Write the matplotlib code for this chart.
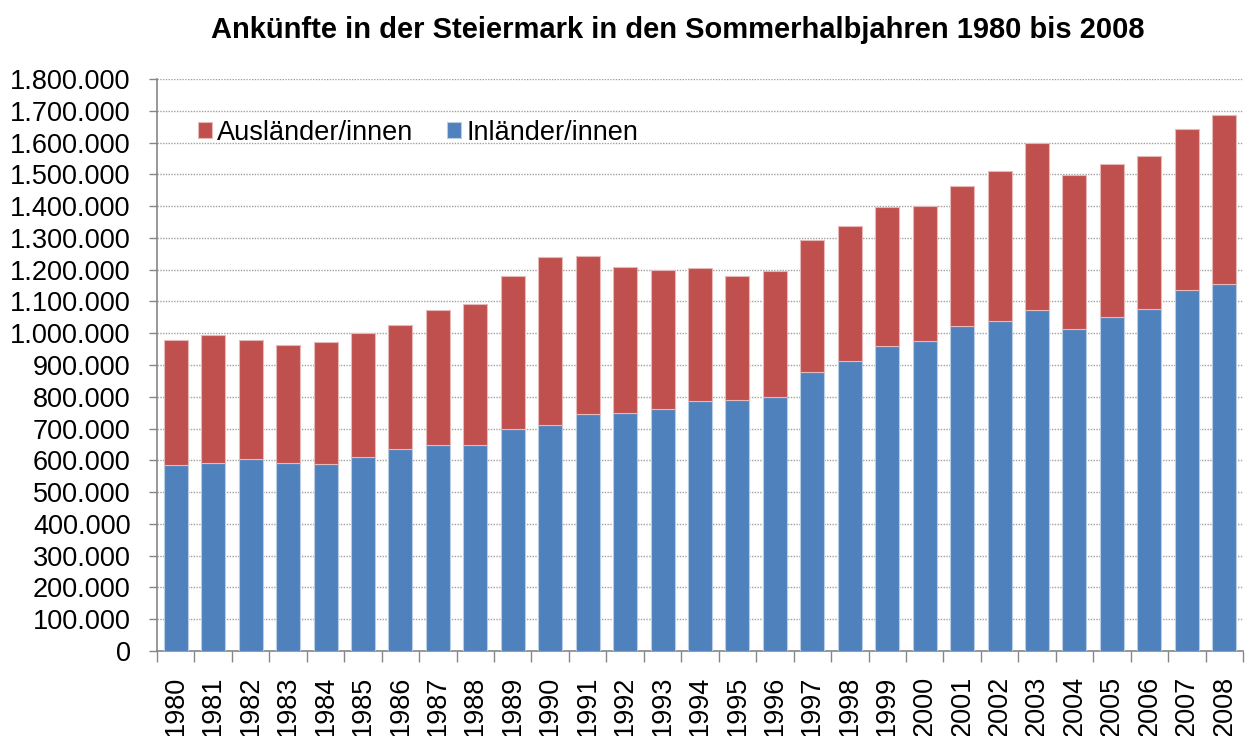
import matplotlib.pyplot as plt
from matplotlib.ticker import FuncFormatter, FixedLocator
import numpy as np

plt.rcParams['font.family'] = ['Liberation Sans', 'DejaVu Sans']

years = list(range(1980, 2009))

# arrivals of domestic guests (Inländer/innen)
inland = [585000, 592000, 605000, 592000, 589000, 609000, 637000, 649000, 649000, 698000,
          710000, 745000, 749000, 762000, 786000, 790000, 799000, 879000, 912000, 960000,
          975000, 1023000, 1039000, 1072000, 1012000, 1052000, 1076000, 1137000, 1156000]

# total arrivals, foreign part is the difference
total = [978000, 995000, 978000, 963000, 971000, 1002000, 1027000, 1072000, 1092000, 1180000,
         1240000, 1244000, 1209000, 1200000, 1205000, 1180000, 1197000, 1293000, 1337000, 1398000,
         1401000, 1462000, 1511000, 1599000, 1499000, 1534000, 1559000, 1644000, 1688000]

foreign = [t - i for t, i in zip(total, inland)]

yticks = list(range(0, 1800001, 100000))

blue = '#4F81BD'
red = '#C0504D'
grey = '#868686'

fig = plt.figure(figsize=(12.5, 7.36), dpi=100)
ax = fig.add_axes([0.1256, 0.1155, 0.8688, 0.7772])

x = np.arange(len(years))
w = 0.64
b_in = ax.bar(x, inland, width=w, color=blue, edgecolor='#B9CDE5', linewidth=0.8,
              label='Inländer/innen', zorder=3)
b_out = ax.bar(x, foreign, width=w, bottom=inland, color=red, edgecolor='#E6B9B8',
               linewidth=0.8, label='Ausländer/innen', zorder=3)

ax.set_xlim(-0.5, len(years) - 0.5)
ax.set_ylim(0, 1800000)

ax.set_xticks(x)
ax.set_xticklabels([str(y) for y in years], rotation=90, fontsize=19.5)
ax.xaxis.set_minor_locator(FixedLocator(np.arange(-0.5, len(years), 1.0)))
ax.tick_params(axis='x', which='major', length=0, pad=18)
ax.tick_params(axis='x', which='minor', length=8, width=1, color=grey, direction='out')

ax.set_yticks(yticks)
ax.yaxis.set_major_formatter(FuncFormatter(lambda v, p: f'{int(v):,}'.replace(',', '.')))
ax.tick_params(axis='y', length=6, width=1, color=grey, labelsize=19.5, pad=13)

ax.grid(axis='y', color='#A0A0A0', linestyle=(0, (1, 1)), linewidth=1, zorder=0)
ax.set_axisbelow(True)

for s in ['top', 'right']:
    ax.spines[s].set_visible(False)
for s in ['left', 'bottom']:
    ax.spines[s].set_color(grey)
    ax.spines[s].set_linewidth(1.2)

ax.legend(handles=[b_out, b_in], loc='upper left', bbox_to_anchor=(0.028, 0.948), ncol=2,
          frameon=False, fontsize=19.5, handlelength=0.5, handleheight=0.5,
          handletextpad=0.2, columnspacing=1.25, borderaxespad=0)

fig.text(0.5424, 0.948, 'Ankünfte in der Steiermark in den Sommerhalbjahren 1980 bis 2008',
         ha='center', va='baseline', fontsize=21, fontweight='bold')

fig.savefig('out.png', dpi=100)
